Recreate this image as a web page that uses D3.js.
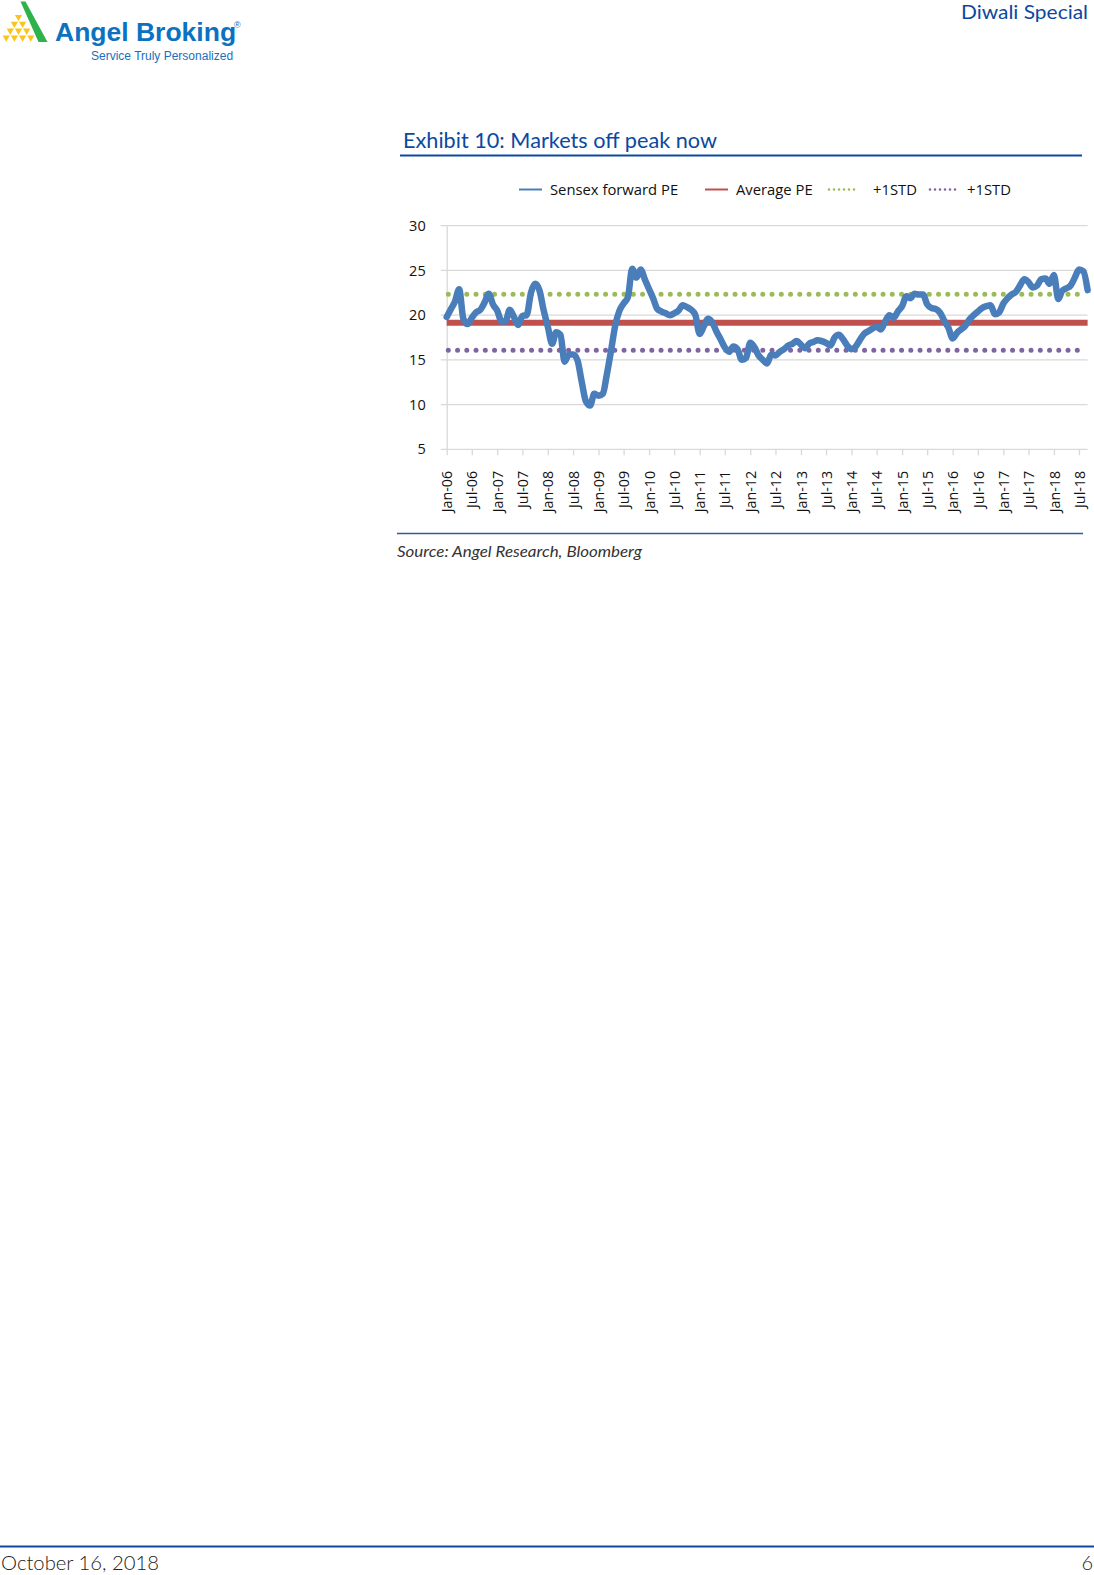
<!DOCTYPE html>
<html>
<head>
<meta charset="utf-8">
<script src="https://cdn.jsdelivr.net/npm/d3@7/dist/d3.min.js"></script>
<style>
  html, body { margin: 0; padding: 0; background: #fff; }
  svg { display: block; }
</style>
</head>
<body>
<svg id="page" width="1094" height="1575"></svg>
<script>
// ---------------- DATA ----------------
const startMonth = "2006-01";
const xTickMonths = 6;                 // Jan / Jul labels
const yTicks = [5, 10, 15, 20, 25, 30];
const legendNames = ["Sensex forward PE", "Average PE", "+1STD", "+1STD"];
// Sensex forward PE, monthly from Jan-06 to Sep-18
const sensexPE = [
  19.8, 20.7, 21.5, 22.9, 19.6, 19.0, 19.7, 20.3, 20.6, 21.4, 22.4, 21.2,   // 2006
  20.5, 19.3, 19.3, 20.6, 19.8, 18.9, 19.9, 20.0, 22.5, 23.5, 22.8, 20.6,   // 2007
  18.7, 16.8, 18.1, 17.8, 14.8, 15.6, 15.6, 15.0, 12.6, 10.4, 9.9, 11.2,    // 2008
  11.0, 11.2, 13.3, 16.0, 18.8, 20.5, 21.3, 22.0, 25.2, 24.2, 25.1, 24.0,   // 2009
  22.9, 21.8, 20.7, 20.4, 20.2, 20.0, 20.2, 20.5, 21.1, 20.9, 20.6, 20.0,   // 2010
  17.9, 18.8, 19.6, 19.2, 18.2, 17.3, 16.4, 15.9, 16.5, 16.2, 15.0, 15.2,   // 2011
  16.9, 16.4, 15.5, 15.0, 14.6, 15.6, 15.5, 15.9, 16.2, 16.6, 16.8, 17.1,   // 2012
  16.7, 16.3, 16.8, 17.0, 17.2, 17.1, 16.9, 16.6, 17.5, 17.8, 17.3, 16.6,   // 2013
  16.2, 16.5, 17.2, 17.9, 18.2, 18.5, 18.7, 18.4, 19.3, 20.0, 19.7, 20.4,   // 2014
  21.0, 22.1, 21.9, 22.4, 22.3, 22.3, 21.2, 20.8, 20.7, 20.3, 19.4, 18.6,   // 2015
  17.4, 18.0, 18.4, 18.8, 19.5, 20.0, 20.4, 20.8, 21.0, 21.1, 20.1, 20.3,   // 2016
  21.3, 21.9, 22.3, 22.6, 23.3, 24.0, 23.7, 23.1, 23.3, 24.0, 24.1, 23.5,   // 2017
  24.5, 21.8, 22.7, 23.0, 23.3, 24.2, 25.1, 24.9, 22.8                      // 2018
];
const averagePE = 19.15;
const plusStdPE = 22.33;
const minusStdPE = 16.07;

// ---------------- SETUP ----------------
const svg = d3.select("#page");
const blue = "#4a7ebb", red = "#c0504d", green = "#9bbb59", purple = "#8064a2";
const navy = "#0b49a0";
const chartFont = "'Open Sans', 'Liberation Sans', sans-serif";
const docFont = "Lato, 'Open Sans', sans-serif";

const parseMonth = d3.timeParse("%Y-%m");
const t0 = parseMonth(startMonth);
const dates = sensexPE.map((_, i) => d3.timeMonth.offset(t0, i));
const data = dates.map((d, i) => ({ date: d, value: sensexPE[i] }));

const plot = { left: 446.7, right: 1087.6, top: 225.7, bottom: 449.3 };
const x = d3.scaleTime().domain([dates[0], dates[dates.length - 1]]).range([plot.left, plot.right]);
const y = d3.scaleLinear().domain([5, 30]).range([plot.bottom, plot.top]);

svg.append("defs").append("clipPath").attr("id", "dotclip")
  .append("rect").attr("x", 0).attr("y", 0).attr("width", plot.right - 7).attr("height", 1575);

// ---------------- HEADER ----------------
const logo = svg.append("g");
const yellow = "#f8c51c";
for (let r = 0; r < 4; r++) {
  for (let i = 0; i <= r; i++) {
    const w = 8.2, h = 6.3;
    const x0 = 18.5 - (r + 1) * w / 2 + i * w;
    const yt = 15 + r * 6.8;
    logo.append("path")
      .attr("d", `M${x0 + 0.5},${yt} L${x0 + w - 0.5},${yt} L${x0 + w / 2},${yt + h} Z`)
      .attr("fill", yellow);
  }
}
logo.append("path").attr("d", "M20.5,1.5 L25.5,1.5 L47.5,42 L38.5,42 Z").attr("fill", "#2fb24c");
logo.append("text").attr("x", 55).attr("y", 41).text("Angel Broking")
  .attr("font-family", "Arial, 'Liberation Sans', sans-serif").attr("font-weight", "bold")
  .attr("font-size", 26.5).attr("fill", "#0b72c1");
logo.append("text").attr("x", 234).attr("y", 28).text("®")
  .attr("font-family", "Arial, 'Liberation Sans', sans-serif").attr("font-size", 9).attr("fill", "#0b72c1");
logo.append("text").attr("x", 91).attr("y", 60).text("Service Truly Personalized")
  .attr("font-family", "Arial, 'Liberation Sans', sans-serif")
  .attr("font-size", 12).attr("fill", "#1a6fc0");

svg.append("text").attr("x", 1088).attr("y", 19.2).attr("text-anchor", "end")
  .text("Diwali Special").attr("font-family", docFont).attr("font-size", 19)
  .attr("textLength", 127).attr("lengthAdjust", "spacingAndGlyphs")
  .attr("fill", navy);

// ---------------- TITLE ----------------
svg.append("text").attr("x", 403).attr("y", 148).text("Exhibit 10: Markets off peak now")
  .attr("font-family", docFont).attr("font-size", 20.5)
  .attr("textLength", 314).attr("lengthAdjust", "spacingAndGlyphs").attr("fill", navy);
svg.append("line").attr("x1", 400).attr("x2", 1082).attr("y1", 155.5).attr("y2", 155.5)
  .attr("stroke", navy).attr("stroke-width", 2);

// ---------------- LEGEND ----------------
const legend = svg.append("g").attr("font-family", chartFont).attr("font-size", 14.8).attr("fill", "#111");
const legendItems = [
  { name: legendNames[0], x1: 519, x2: 542, tx: 550, color: blue, dash: null },
  { name: legendNames[1], x1: 705, x2: 728, tx: 736, color: red, dash: null },
  { name: legendNames[2], x1: 829, x2: 859, tx: 873, color: green, dash: "0 5" },
  { name: legendNames[3], x1: 930, x2: 960, tx: 967, color: purple, dash: "0 5" }
];
legendItems.forEach(it => {
  const ly = 189.5;
  const ln = legend.append("line").attr("x1", it.x1).attr("x2", it.x2).attr("y1", ly).attr("y2", ly)
    .attr("stroke", it.color);
  if (it.dash) ln.attr("stroke-width", 2.6).attr("stroke-dasharray", it.dash).attr("stroke-linecap", "round");
  else ln.attr("stroke-width", 2);
  legend.append("text").attr("x", it.tx).attr("y", ly + 5.5).text(it.name);
});

// ---------------- GRID & AXES ----------------
const grid = svg.append("g");
yTicks.forEach(v => {
  grid.append("line").attr("x1", plot.left - 6).attr("x2", plot.right).attr("y1", y(v)).attr("y2", y(v))
    .attr("stroke", "#d9d9d9").attr("stroke-width", 1.3);
});

const yAxis = svg.append("g").attr("transform", `translate(${plot.left},0)`)
  .call(d3.axisLeft(y).tickValues(yTicks).tickSize(0).tickPadding(21).tickFormat(d3.format("d")));
yAxis.select(".domain").attr("stroke", "#d9d9d9").attr("stroke-width", 1.3);
yAxis.selectAll("text").attr("font-family", chartFont).attr("font-size", 14.5).attr("fill", "#111");

const xTicks = d3.timeMonth.every(xTickMonths).range(dates[0], d3.timeMonth.offset(dates[dates.length - 1], 1));
const xAxis = svg.append("g").attr("transform", `translate(0,${plot.bottom})`)
  .call(d3.axisBottom(x).tickValues(xTicks).tickSize(6).tickFormat(d3.timeFormat("%b-%y")));
xAxis.select(".domain").remove();
xAxis.selectAll("line").attr("stroke", "#d9d9d9").attr("stroke-width", 1.3);
xAxis.selectAll("text")
  .attr("font-family", chartFont).attr("font-size", 14.3).attr("fill", "#111")
  .attr("text-anchor", "end")
  .attr("transform", "translate(0,21.5) rotate(-90)")
  .attr("x", 0).attr("y", 0).attr("dy", "0.36em");

// ---------------- SERIES ----------------
const flat = v => d3.line().x(d => x(d)).y(() => y(v));
const ends = [dates[0], dates[dates.length - 1]];

svg.append("path").datum(ends).attr("d", flat(plusStdPE)).attr("clip-path", "url(#dotclip)")
  .attr("fill", "none").attr("stroke", green).attr("stroke-width", 5)
  .attr("stroke-linecap", "round").attr("stroke-dasharray", "0 9.25").attr("stroke-dashoffset", -1.6);
svg.append("path").datum(ends).attr("d", flat(minusStdPE)).attr("clip-path", "url(#dotclip)")
  .attr("fill", "none").attr("stroke", purple).attr("stroke-width", 5)
  .attr("stroke-linecap", "round").attr("stroke-dasharray", "0 9.25").attr("stroke-dashoffset", -1.6);
svg.append("path").datum(ends).attr("d", flat(averagePE))
  .attr("fill", "none").attr("stroke", red).attr("stroke-width", 6);

const peLine = d3.line().x(d => x(d.date)).y(d => y(d.value)).curve(d3.curveMonotoneX);
svg.append("path").datum(data).attr("d", peLine)
  .attr("fill", "none").attr("stroke", blue).attr("stroke-width", 6.5)
  .attr("stroke-linejoin", "round").attr("stroke-linecap", "round");

// ---------------- SOURCE ----------------
svg.append("line").attr("x1", 397).attr("x2", 1083).attr("y1", 533.5).attr("y2", 533.5)
  .attr("stroke", "#2d5aa6").attr("stroke-width", 1.3);
svg.append("text").attr("x", 397).attr("y", 557).text("Source: Angel Research, Bloomberg")
  .attr("font-family", docFont).attr("font-style", "italic").attr("font-size", 15.5)
  .attr("textLength", 245).attr("lengthAdjust", "spacingAndGlyphs").attr("fill", "#333");

// ---------------- FOOTER ----------------
svg.append("line").attr("x1", 0).attr("x2", 1094).attr("y1", 1546.5).attr("y2", 1546.5)
  .attr("stroke", navy).attr("stroke-width", 2.2);
svg.append("text").attr("x", 1).attr("y", 1570).text("October 16, 2018")
  .attr("font-family", docFont).attr("font-weight", 300).attr("font-size", 20)
  .attr("textLength", 158).attr("lengthAdjust", "spacingAndGlyphs").attr("fill", "#222");
svg.append("text").attr("x", 1093).attr("y", 1570).attr("text-anchor", "end").text("6")
  .attr("font-family", docFont).attr("font-weight", 300).attr("font-size", 20).attr("fill", "#222");
</script>
</body>
</html>
